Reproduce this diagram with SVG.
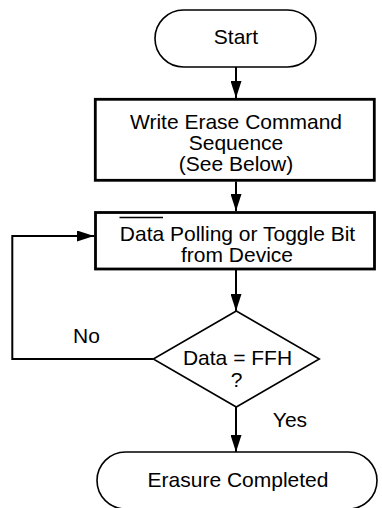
<svg xmlns="http://www.w3.org/2000/svg" width="382" height="508" viewBox="0 0 382 508">
  <style>
    .t { font-family: "Liberation Sans", Arial, sans-serif; font-size: 21px; fill: #000; text-anchor: middle; }
    .term { fill: #fff; stroke: #000; stroke-width: 1.6; }
    .box { fill: #fff; stroke: #000; stroke-width: 2.8; }
    .dec { fill: #fff; stroke: #000; stroke-width: 1.6; }
    .conn { fill: none; stroke: #000; stroke-width: 2; }
  </style>
  <defs>
    <marker id="ah" viewBox="0 0 17 11" markerWidth="17" markerHeight="11" refX="17" refY="5.5" orient="auto" markerUnits="userSpaceOnUse">
      <path d="M0,0 L17,5.5 L0,11 Z" fill="#000"/>
    </marker>
  </defs>
  <rect width="382" height="508" fill="#fff"/>

  <g id="connectors">
    <line class="conn" x1="236" y1="67" x2="236" y2="98" marker-end="url(#ah)"/>
    <line class="conn" x1="236" y1="181.5" x2="236" y2="211" marker-end="url(#ah)"/>
    <line class="conn" x1="236" y1="270" x2="236" y2="311" marker-end="url(#ah)"/>
    <polyline class="conn" points="153,359 12.3,359 12.3,236 94,236" marker-end="url(#ah)"/>
    <line class="conn" x1="236" y1="407" x2="236" y2="452" marker-end="url(#ah)"/>
    <text class="t" x="86.5" y="343">No</text>
    <text class="t" x="290" y="427">Yes</text>
  </g>

  <g id="start">
    <rect class="term" x="155" y="10" width="161" height="57" rx="28.5" ry="28.5"/>
    <text class="t" x="236" y="44">Start</text>
  </g>

  <g id="write-erase">
    <rect class="box" x="95.3" y="99.3" width="279" height="81"/>
    <text class="t" x="236" y="129">Write Erase Command</text>
    <text class="t" x="236" y="150">Sequence</text>
    <text class="t" x="236" y="171">(See Below)</text>
  </g>

  <g id="polling">
    <rect class="box" x="95.5" y="212.5" width="279" height="56.5"/>
    <text class="t" x="237.5" y="241">Data Polling or Toggle Bit</text>
    <line x1="119.5" y1="217.5" x2="163" y2="217.5" stroke="#000" stroke-width="1.5"/>
    <text class="t" x="237" y="262">from Device</text>
  </g>

  <g id="decision">
    <polygon class="dec" points="236.3,311 319.3,359 236.3,407 153.3,359"/>
    <text class="t" x="237.5" y="365">Data = FFH</text>
    <text class="t" x="236.5" y="387">?</text>
  </g>

  <g id="end">
    <rect class="term" x="97" y="452" width="280" height="57" rx="28.5" ry="28.5"/>
    <text class="t" x="238" y="487">Erasure Completed</text>
  </g>
</svg>
